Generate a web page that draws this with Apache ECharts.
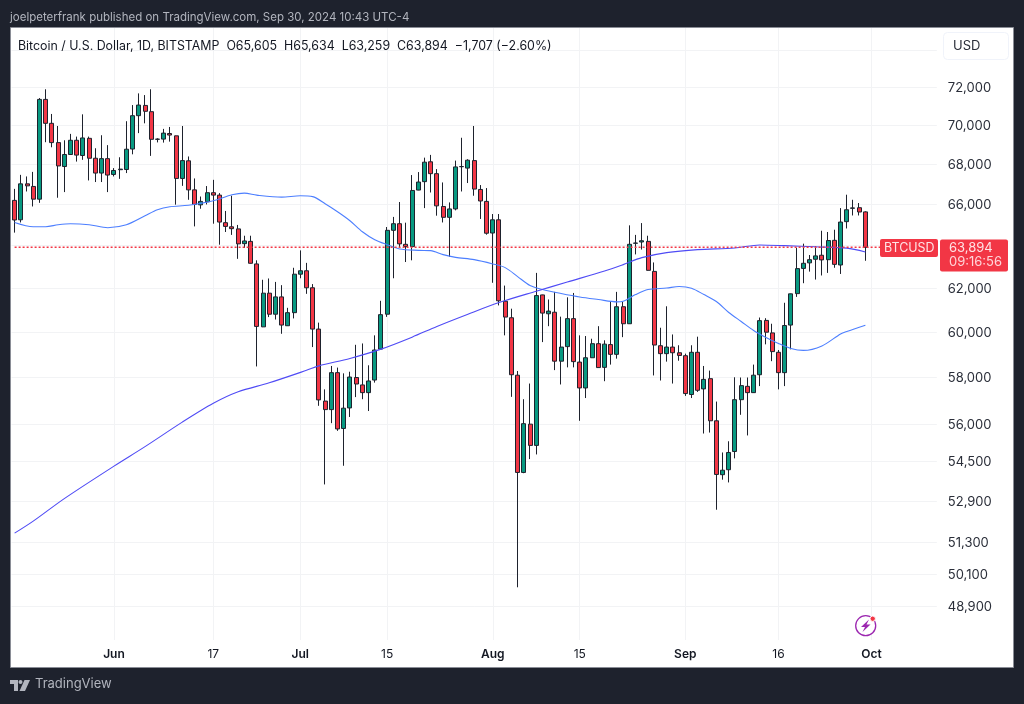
<!DOCTYPE html>
<html>
<head>
<meta charset="utf-8">
<title>BTCUSD</title>
<script src="https://cdn.jsdelivr.net/npm/echarts@6/dist/echarts.min.js"></script>
<style>
html, body { margin: 0; padding: 0; background: #1e222d; }
#main { width: 1024px; height: 704px; }
</style>
</head>
<body>
<div id="main"></div>
<script>
// daily candles, May 16 to Sep 30 2024: [open, close, low, high]
var ohlc = [
[66170,65210,64600,66740],[65220,66990,65090,67440],[66990,66890,66610,67360],[66860,66230,65870,67590],
[66230,71340,66050,71410],[71340,70080,69100,71880],[70080,69080,68840,70570],[69080,67890,66300,69940],
[67860,68470,66580,69200],[68470,69200,68450,69530],[69200,68440,68110,69390],[68420,69320,68200,70550],
[69300,68280,67160,69390],[68280,67530,67080,68790],[67530,68260,67080,69460],[68260,67430,66580,68950],
[67460,67660,67360,67780],[67700,67730,67240,68330],[67710,68740,67530,70190],[68750,70480,68480,71040],
[70480,71040,69570,71660],[71020,70710,70080,71570],[70690,69250,68400,71880],[69250,69260,69090,69300],
[69260,69570,69080,69790],[69550,69470,69130,69890],[69430,67260,65960,69440],[67260,68160,66890,69940],
[68150,66690,66200,68370],[66690,65970,64900,67260],[65950,66120,65760,66360],[66100,66550,65970,66880],
[66550,66430,65030,67190],[66430,65110,64020,66530],[65080,64900,64630,65650],[64880,64790,64490,66400],
[64780,64060,63350,64970],[64070,64200,63870,64450],[64180,63140,63130,64450],[63110,60240,58470,63280],
[60220,61750,60210,62370],[61750,60790,60660,62430],[60790,61580,60550,62270],[61580,60300,59910,62120],
[60270,60860,60260,61080],[60860,62630,60600,62930],[62630,62790,62440,63750],[62790,62000,61720,63160],
[62000,60120,59320,62170],[60120,57030,56780,60410],[56980,56620,53550,57480],[56620,58200,56050,58490],
[58200,55810,55730,58420],[55830,56680,54300,58170],[56690,58010,56310,58240],[57990,57710,57150,59420],
[57670,57340,57060,59480],[57340,57840,56560,58520],[57880,59190,57770,59840],[59230,60770,59220,61400],
[60790,64710,60670,64870],[64710,65030,62440,65360],[65030,64060,63870,66090],[64040,63930,63200,65080],
[63930,66660,63280,67430],[66680,67080,66670,67580],[67100,68080,65790,68310],[68100,67500,66560,68450],
[67500,65900,65420,67730],[65870,65340,65090,67060],[65340,65750,63440,66070],[65750,67840,65680,68160],
[67850,67860,66610,69330],[67780,68180,67030,68230],[68160,66730,66400,69940],[66710,66140,65260,66930],
[66120,64570,64500,66780],[64580,65220,62230,65500],[65220,61400,61190,65500],[61380,60660,59840,62100],
[60630,58110,57160,61040],[58090,54030,49600,58270],[54030,56030,54000,57060],[56010,55130,54570,57730],
[55130,61640,54760,62690],[61670,60840,59540,61680],[60810,60930,60250,61460],[60880,58700,58310,61810],
[58700,59320,57690,60680],[59340,60590,58430,61560],[60590,58680,58430,61760],[58660,57540,56150,59840],
[57540,58850,57110,59810],[58850,59470,58840,59690],[59470,58420,58410,60250],[58430,59450,57830,59620],
[59430,59000,58550,61380],[59000,61130,58810,61810],[61130,60360,59760,61350],[60360,64040,60350,64950],
[64090,64100,63560,64490],[64150,64210,63790,65060],[64180,62810,62800,64450],[62760,59410,58080,63180],
[59380,59030,57860,60180],[59030,59320,58680,61150],[59320,59070,57730,59880],[59070,58950,58720,59400],
[58940,57300,57200,59030],[57260,59090,57110,59400],[59090,57440,57370,59780],[57500,57910,55620,58490],
[57940,56150,55660,58290],[56150,53950,52550,56960],[53940,54120,53740,54840],[54140,54840,53630,55300],
[54880,57040,54600,58000],[57040,57640,56400,57990],[57610,57340,55540,57990],[57340,58090,57330,58550],
[58110,60500,57620,60640],[60510,59980,59440,60610],[59950,59120,58700,60360],[59090,58200,57480,59190],
[58200,60280,57620,61310],[60300,61720,59220,61730],[61730,62890,61580,63870],[62900,63140,62210,64070],
[63160,63310,62750,63530],[63330,63490,62380,63950],[63520,63300,62570,64690],[63310,64220,62690,64630],
[64230,63090,62930,64740],[63060,65110,62640,65790],[65130,65710,64800,66450],[65780,65800,65430,66200],
[65810,65600,65430,66040],[65605,63894,63259,65634]
];

// moving averages: [candle index, price]
var sma50 = [
[0,65092],[3,64885],[5,64885],[7,64980],[9,65030],[12,64980],[15,64837],[18,64980],[21,65416],[23,65710],
[25,65857],[28,65930],[32,66151],[35,66445],[37,66530],[39,66430],[43,66330],[46,66395],[48,66355],[50,66003],
[52,65612],[54,65175],[56,64644],[58,64261],[60,64023],[62,63818],[65,63752],[67,63738],[69,63549],[71,63421],
[74,63313],[77,63111],[79,62937],[81,62518],[83,62102],[85,61917],[88,61733],[91,61573],[94,61458],[97,61353],
[98,61380],[100,61687],[102,61917],[105,61986],[107,62055],[109,61977],[111,61687],[113,61366],[115,60867],[117,60462],
[119,60059],[121,59747],[123,59480],[125,59260],[127,59172],[130,59370],[133,59902],[134,60014],[137,60295]
];
var sma200 = [
[0,51642],[3,52106],[8,52987],[16,54284],[21,55079],[27,56094],[32,56886],[36,57375],[41,57760],[47,58300],
[49,58495],[54,58820],[59,59229],[64,59760],[68,60238],[73,60790],[78,61320],[84,61840],[89,62265],[95,62775],
[98,63078],[101,63407],[105,63643],[110,63785],[116,63866],[120,64010],[124,63976],[129,63920],[134,63857],[137,63676]
];

var lastPrice = 63894;
var priceTicks = [72000, 70000, 68000, 66000, 62000, 60000, 58000, 56000, 54500, 52900, 51300, 50100, 48900];
var priceGrid = [74000, 72000, 70000, 68000, 66000, 64000, 62000, 60000, 58000, 56000, 54500, 52900, 51300, 50100, 48900];

// one band per day, running past the last candle to the price scale
var startDay = Date.UTC(2024, 4, 16);
var categories = [];
for (var d = 0; d < 149; d++) {
    categories.push(new Date(startDay + d * 86400000).toISOString().slice(0, 10));
}
var timeTicks = {
    '2024-06-01': 'Jun', '2024-06-17': '17', '2024-07-01': 'Jul', '2024-07-15': '15', '2024-08-01': 'Aug',
    '2024-08-15': '15', '2024-09-01': 'Sep', '2024-09-16': '16', '2024-10-01': 'Oct'
};

function isTimeTick(index, value) {
    return timeTicks[value] !== undefined;
}

var myChart = echarts.init(document.getElementById('main'), null, { renderer: 'canvas' });

var option = {
    animation: false,
    backgroundColor: '#1e222d',
    textStyle: { fontFamily: 'Inter' },
    title: [{
        text: 'joelpeterfrank published on TradingView.com, Sep 30, 2024 10:43 UTC-4',
        left: 10, top: 12, padding: 0,
        textStyle: { color: '#b2b5be', fontSize: 11.5, fontWeight: 'normal', fontFamily: 'Inter' }
    }, {
        text: 'Bitcoin / U.S. Dollar, 1D, BITSTAMP  O65,605  H65,634  L63,259  C63,894  \u22121,707 (\u22122.60%)',
        left: 18, top: 40, padding: 0,
        textStyle: { color: '#131722', fontSize: 12.4, fontWeight: 'normal', fontFamily: 'Inter' }
    }, {
        text: 'TradingView',
        left: 35, top: 678, padding: 0,
        textStyle: { color: '#b2b5be', fontSize: 13, fontWeight: 'normal', fontFamily: 'Inter' }
    }],
    grid: { left: 11.5, top: 28, width: 925.3, height: 612 },
    xAxis: {
        type: 'category',
        data: categories,
        boundaryGap: true,
        axisLine: { show: false },
        axisTick: { show: false },
        axisLabel: {
            interval: isTimeTick,
            hideOverlap: false,
            margin: 8,
            formatter: function (value) {
                var label = timeTicks[value];
                return isNaN(label) ? '{month|' + label + '}' : '{day|' + label + '}';
            },
            rich: {
                month: { color: '#131722', fontSize: 12, fontWeight: 600, fontFamily: 'Inter' },
                day: { color: '#131722', fontSize: 12, fontFamily: 'Inter' }
            }
        },
        splitLine: {
            show: true,
            interval: isTimeTick,
            alignWithLabel: true,
            lineStyle: { color: '#f2f3f5', width: 1 }
        }
    },
    yAxis: {
        type: 'log',
        logBase: 10,
        position: 'right',
        min: 47690,
        max: 75237,
        axisLine: { show: false },
        axisTick: { show: false },
        axisLabel: {
            customValues: priceTicks,
            margin: 11,
            formatter: function (value) {
                return '{price|' + Math.round(value).toLocaleString('en-US') + '}';
            },
            rich: {
                price: { color: '#2a2e39', fontSize: 13, fontFamily: 'Inter', padding: [2, 0, 0, 0] }
            }
        },
        splitLine: { show: false }
    },
    series: [{
        name: 'SMA 50',
        type: 'line',
        data: sma50,
        symbol: 'none',
        smooth: 0.3,
        z: 3,
        lineStyle: { color: '#4d7fff', width: 1.1 }
    }, {
        name: 'SMA 200',
        type: 'line',
        data: sma200,
        symbol: 'none',
        smooth: 0.3,
        z: 3,
        lineStyle: { color: '#4f4bf5', width: 1.1 },
        // horizontal grid at the price scale's own levels
        markLine: {
            silent: true,
            symbol: 'none',
            animation: false,
            z: 1,
            label: { show: false },
            lineStyle: { color: '#f2f3f5', type: 'solid', width: 1 },
            data: priceGrid.map(function (p) { return { yAxis: p }; })
        }
    }, {
        name: 'BTCUSD',
        type: 'candlestick',
        data: ohlc,
        barWidth: 4.5,
        z: 2,
        itemStyle: {
            color: '#089981',
            color0: '#f23645',
            borderColor: '#1e222d',
            borderColor0: '#1e222d',
            borderWidth: 1
        }
    }, {
        name: 'Last price',
        type: 'line',
        data: [[0, lastPrice], [categories.length - 1, lastPrice]],
        symbol: 'none',
        silent: true,
        z: 4,
        lineStyle: { color: '#f23645', type: [2, 2], width: 1.5 }
    }],
    graphic: [
        // white chart panel
        { type: 'rect', z: -10, shape: { x: 10.5, y: 27.5, width: 1003, height: 640 }, style: { fill: '#ffffff', stroke: '#8a8d96', lineWidth: 1 } },
        // currency button
        { type: 'rect', z: 10, shape: { x: 943.5, y: 32.5, width: 65, height: 27, r: 4 }, style: { fill: '#ffffff', stroke: '#f0f3fa', lineWidth: 1 } },
        { type: 'text', z: 11, style: { x: 953, y: 46, text: 'USD', fill: '#2a2e39', font: '13px Inter', textVerticalAlign: 'middle' } },
        // last price tags
        { type: 'rect', z: 10, shape: { x: 880, y: 239, width: 58, height: 18, r: 2 }, style: { fill: '#f23645' } },
        { type: 'text', z: 11, style: { x: 884, y: 248.5, text: 'BTCUSD', fill: '#ffe3e5', font: '12.5px Inter', textVerticalAlign: 'middle' } },
        { type: 'rect', z: 10, shape: { x: 940, y: 239.5, width: 68, height: 32, r: 2 }, style: { fill: '#f23645' } },
        { type: 'text', z: 11, style: { x: 949, y: 248, text: '63,894', fill: '#ffe3e5', font: '13px Inter', textVerticalAlign: 'middle' } },
        { type: 'text', z: 11, style: { x: 949, y: 262, text: '09:16:56', fill: '#ffd5d9', font: '13px Inter', textVerticalAlign: 'middle' } },
        // lightning badge
        { type: 'circle', z: 10, shape: { cx: 865.7, cy: 625.7, r: 10 }, style: { fill: '#ffffff', stroke: '#9c27b0', lineWidth: 1.3 } },
        { type: 'polygon', z: 11, shape: { points: [[869, 619.5], [861, 627], [865, 627], [862.5, 632], [870.5, 624.5], [866.5, 624.5]] }, style: { fill: '#9c27b0' } },
        { type: 'circle', z: 12, shape: { cx: 872.7, cy: 618.7, r: 2.7 }, style: { fill: '#f23645', stroke: '#ffffff', lineWidth: 1 } },
        // TradingView mark
        { type: 'polygon', z: 10, shape: { points: [[10, 680], [18, 680], [18, 691], [14, 691], [14, 684], [10, 684]] }, style: { fill: '#b2b5be' } },
        { type: 'circle', z: 10, shape: { cx: 20.5, cy: 682, r: 2 }, style: { fill: '#b2b5be' } },
        { type: 'polygon', z: 10, shape: { points: [[24.5, 680], [30, 680], [25, 691], [19.5, 691]] }, style: { fill: '#b2b5be' } }
    ]
};

myChart.setOption(option);
</script>
</body>
</html>
